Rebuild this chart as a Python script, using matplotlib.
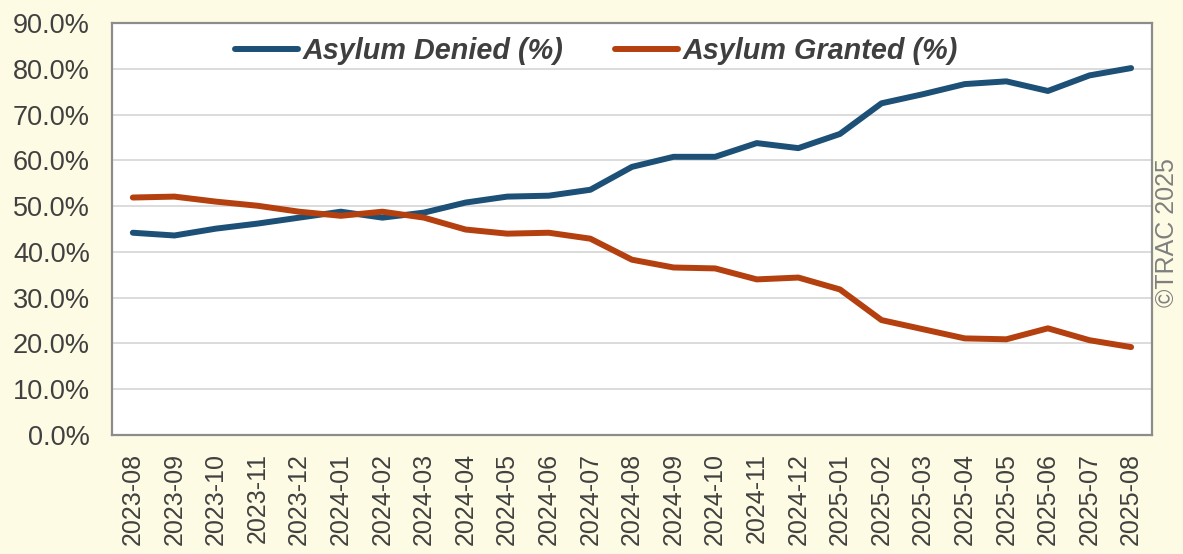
import numpy as np
import matplotlib.pyplot as plt
from matplotlib.ticker import PercentFormatter

months = [
    "2023-08", "2023-09", "2023-10", "2023-11", "2023-12",
    "2024-01", "2024-02", "2024-03", "2024-04", "2024-05", "2024-06",
    "2024-07", "2024-08", "2024-09", "2024-10", "2024-11", "2024-12",
    "2025-01", "2025-02", "2025-03", "2025-04", "2025-05", "2025-06",
    "2025-07", "2025-08",
]
deniedPct = [
    44.2, 43.6, 45.1, 46.2, 47.5, 48.8, 47.5, 48.6, 50.8, 52.1, 52.3,
    53.6, 58.6, 60.8, 60.8, 63.8, 62.7, 65.8, 72.5, 74.5, 76.7, 77.3,
    75.2, 78.6, 80.2,
]
grantedPct = [
    51.9, 52.1, 51.0, 50.1, 48.8, 47.9, 48.8, 47.5, 44.9, 44.0, 44.2,
    42.9, 38.3, 36.6, 36.4, 34.0, 34.4, 31.8, 25.1, 23.1, 21.1, 20.9,
    23.3, 20.7, 19.2,
]

plt.rcParams["font.family"] = ["Liberation Sans", "DejaVu Sans"]

bgColor = "#fefbe4"
fig = plt.figure(figsize=(11.83, 5.54), dpi=100, facecolor=bgColor)
ax = fig.add_axes([0.0947, 0.215, 0.879, 0.743])
ax.set_facecolor("white")

x = np.arange(len(months))
ax.plot(x, deniedPct, color="#1d5076", linewidth=4.3, solid_capstyle="round",
        solid_joinstyle="round", label="Asylum Denied (%)", zorder=3)
ax.plot(x, grantedPct, color="#b5400f", linewidth=4.3, solid_capstyle="round",
        solid_joinstyle="round", label="Asylum Granted (%)", zorder=3)

ax.set_xlim(-0.5, len(months) - 0.5)
ax.set_ylim(0, 90)
ax.set_yticks(np.arange(0, 91, 10))
ax.yaxis.set_major_formatter(PercentFormatter(decimals=1))
ax.set_xticks(x)
ax.set_xticklabels(months, rotation=90)
ax.tick_params(axis="y", labelsize=19.5, labelcolor="#404040", length=0, pad=16)
ax.tick_params(axis="x", labelsize=18, labelcolor="#404040", length=0, pad=13)

ax.grid(axis="y", color="#d9d9d9", linewidth=1.3, zorder=0)
ax.set_axisbelow(True)
for spine in ax.spines.values():
    spine.set_color("#8c8c8c")
    spine.set_linewidth(1.6)

leg = ax.legend(loc="center left", bbox_to_anchor=(0.118, 0.932), ncol=2,
                frameon=False, handlelength=2.2, handletextpad=0.15,
                columnspacing=1.8, borderpad=0, borderaxespad=0,
                prop={"size": 20.7, "weight": "bold", "style": "italic"})
for text in leg.get_texts():
    text.set_color("#3f3f3f")

fig.text(0.9865, 0.581, "\u00a9TRAC 2025", rotation=90, ha="center",
         va="center", fontsize=18, color="#7f7f7f")

fig.savefig("out.png", dpi=100, facecolor=bgColor)
